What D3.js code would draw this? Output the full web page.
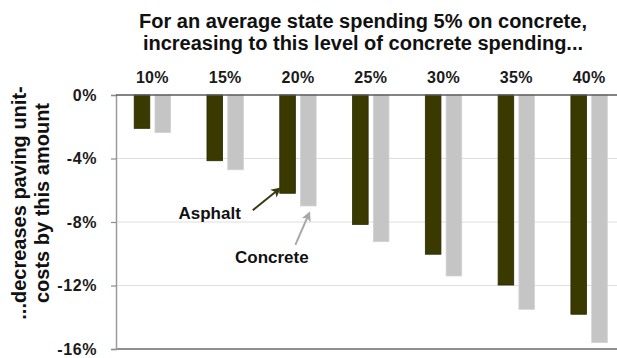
<!DOCTYPE html>
<html>
<head>
<meta charset="utf-8">
<script src="https://cdn.jsdelivr.net/npm/d3@7"></script>
<style>
  html, body { margin: 0; padding: 0; background: #fff; }
  svg { display: block; font-family: "Liberation Sans", Arial, sans-serif; }
</style>
</head>
<body>
<svg id="chart" width="617" height="358"></svg>
<script>
// Target concrete share of spending (categories along the top)
const categories = ["10%", "15%", "20%", "25%", "30%", "35%", "40%"];
const seriesNames = ["Asphalt", "Concrete"];
// Change in paving unit-costs, percent
const asphaltValues = [-2.10, -4.14, -6.19, -8.15, -10.03, -11.97, -13.81];
const concreteValues = [-2.37, -4.71, -6.99, -9.24, -11.40, -13.50, -15.60];
const yTicks = [0, -4, -8, -12, -16];
const titleLines = ["For an average state spending 5% on concrete,",
                    "increasing to this level of concrete spending..."];
const yTitleLines = ["...decreases paving unit-", "costs by this amount"];

const colors = { Asphalt: "#393900", Concrete: "#c5c5c5" };
const strokes = { Asphalt: "#2a2a00", Concrete: "#d2d2d2" };

const svg = d3.select("#chart");
const W = 617;
const plotLeft = 116, plotTop = 95, plotBottom = 349;

const x0 = d3.scaleBand().domain(categories).range([plotLeft, 625.5])
  .paddingInner(0.5).paddingOuter(0.25);
const x1 = d3.scaleBand().domain(seriesNames).range([0, x0.bandwidth()])
  .paddingInner(0.25);
const y = d3.scaleLinear().domain([0, -16]).range([plotTop, plotBottom]);

const rows = categories.map((c, i) => ({
  cat: c,
  vals: [
    { s: "Asphalt", v: asphaltValues[i] },
    { s: "Concrete", v: concreteValues[i] }
  ]
}));

// Horizontal gridlines
svg.append("g").selectAll("line")
  .data(yTicks.filter(t => t !== 0 && t !== -16))
  .join("line")
  .attr("x1", plotLeft).attr("x2", W)
  .attr("y1", d => y(d)).attr("y2", d => y(d))
  .attr("stroke", "#dedede").attr("stroke-width", 1);

// Bars
const groups = svg.append("g").selectAll("g")
  .data(rows).join("g")
  .attr("transform", d => `translate(${x0(d.cat)},0)`);
groups.selectAll("rect")
  .data(d => d.vals).join("rect")
  .attr("x", d => x1(d.s))
  .attr("y", y(0))
  .attr("width", x1.bandwidth())
  .attr("height", d => y(d.v) - y(0))
  .attr("fill", d => colors[d.s])
  .attr("stroke", d => strokes[d.s])
  .attr("stroke-width", 0.8);

// Bottom frame line
svg.append("line")
  .attr("x1", plotLeft).attr("x2", W)
  .attr("y1", y(-16)).attr("y2", y(-16))
  .attr("stroke", "#6a6a6a").attr("stroke-width", 1.6);

// Value axis
const yAxis = d3.axisLeft(y).tickValues(yTicks)
  .tickFormat(d => (d === 0 ? "0" : "-" + Math.abs(d)) + "%")
  .tickSize(5).tickPadding(14);
const ya = svg.append("g").attr("transform", `translate(${plotLeft},0)`).call(yAxis);
ya.select(".domain").attr("stroke", "#9a9a9a").attr("stroke-width", 1.5);
ya.selectAll(".tick line").attr("stroke", "#8a8a8a").attr("stroke-width", 1.2);
ya.selectAll(".tick text")
  .attr("font-size", 16).attr("font-weight", "bold")
  .attr("letter-spacing", 0.6)
  .attr("font-family", "Liberation Sans, Arial, sans-serif")
  .attr("fill", "#1a1a1a");

// Category axis line at zero
svg.append("line")
  .attr("x1", plotLeft).attr("x2", W)
  .attr("y1", y(0)).attr("y2", y(0))
  .attr("stroke", "#5a5a5a").attr("stroke-width", 1.6);

// Category labels along the top
svg.append("g").selectAll("text")
  .data(categories).join("text")
  .attr("x", d => x0(d) + x0.bandwidth() / 2)
  .attr("y", 82.5)
  .attr("text-anchor", "middle")
  .attr("font-size", 16).attr("font-weight", "bold")
  .attr("letter-spacing", 0.3)
  .attr("fill", "#1a1a1a")
  .text(d => d);

// Title
svg.append("g").selectAll("text")
  .data(titleLines).join("text")
  .attr("x", 363).attr("y", (d, i) => 27.5 + i * 22)
  .attr("text-anchor", "middle")
  .attr("font-size", 20).attr("font-weight", "bold")
  .attr("fill", "#111")
  .text(d => d);

// Vertical axis title
svg.append("g").selectAll("text")
  .data(yTitleLines).join("text")
  .attr("transform", (d, i) => `translate(${26 + i * 23},203) rotate(-90)`)
  .attr("text-anchor", "middle")
  .attr("font-size", 20).attr("font-weight", "bold")
  .attr("fill", "#111")
  .text(d => d);

// Series callouts pointing at the 20% bars
const defs = svg.append("defs");
seriesNames.forEach(s => {
  defs.append("marker")
    .attr("id", "arrow-" + s)
    .attr("viewBox", "0 0 10 10")
    .attr("refX", 7).attr("refY", 5)
    .attr("markerWidth", 5).attr("markerHeight", 5)
    .attr("orient", "auto-start-reverse")
    .append("path").attr("d", "M0,0 L10,5 L0,10 L2.5,5 z")
    .attr("fill", s === "Asphalt" ? "#3a3a10" : "#a8a8a8");
});

const iRef = categories.indexOf("20%");
const aBarX = x0(categories[iRef]) + x1("Asphalt");
const aBarY = y(asphaltValues[iRef]);
const cBarX = x0(categories[iRef]) + x1("Concrete") + x1.bandwidth() / 2;
const cBarY = y(concreteValues[iRef]);

svg.append("line")
  .attr("x1", aBarX - 27).attr("y1", aBarY + 17)
  .attr("x2", aBarX - 1).attr("y2", aBarY - 4)
  .attr("stroke", "#3a3a10").attr("stroke-width", 2)
  .attr("marker-end", "url(#arrow-Asphalt)");
svg.append("text")
  .attr("x", 178.5).attr("y", 218.5)
  .attr("font-size", 17).attr("font-weight", "bold").attr("fill", "#111")
  .text("Asphalt");

svg.append("line")
  .attr("x1", cBarX - 13).attr("y1", cBarY + 39)
  .attr("x2", cBarX + 0.5).attr("y2", cBarY + 8)
  .attr("stroke", "#a8a8a8").attr("stroke-width", 2)
  .attr("marker-end", "url(#arrow-Concrete)");
svg.append("text")
  .attr("x", 235).attr("y", 262.5)
  .attr("font-size", 17).attr("font-weight", "bold").attr("fill", "#111")
  .text("Concrete");
</script>
</body>
</html>
